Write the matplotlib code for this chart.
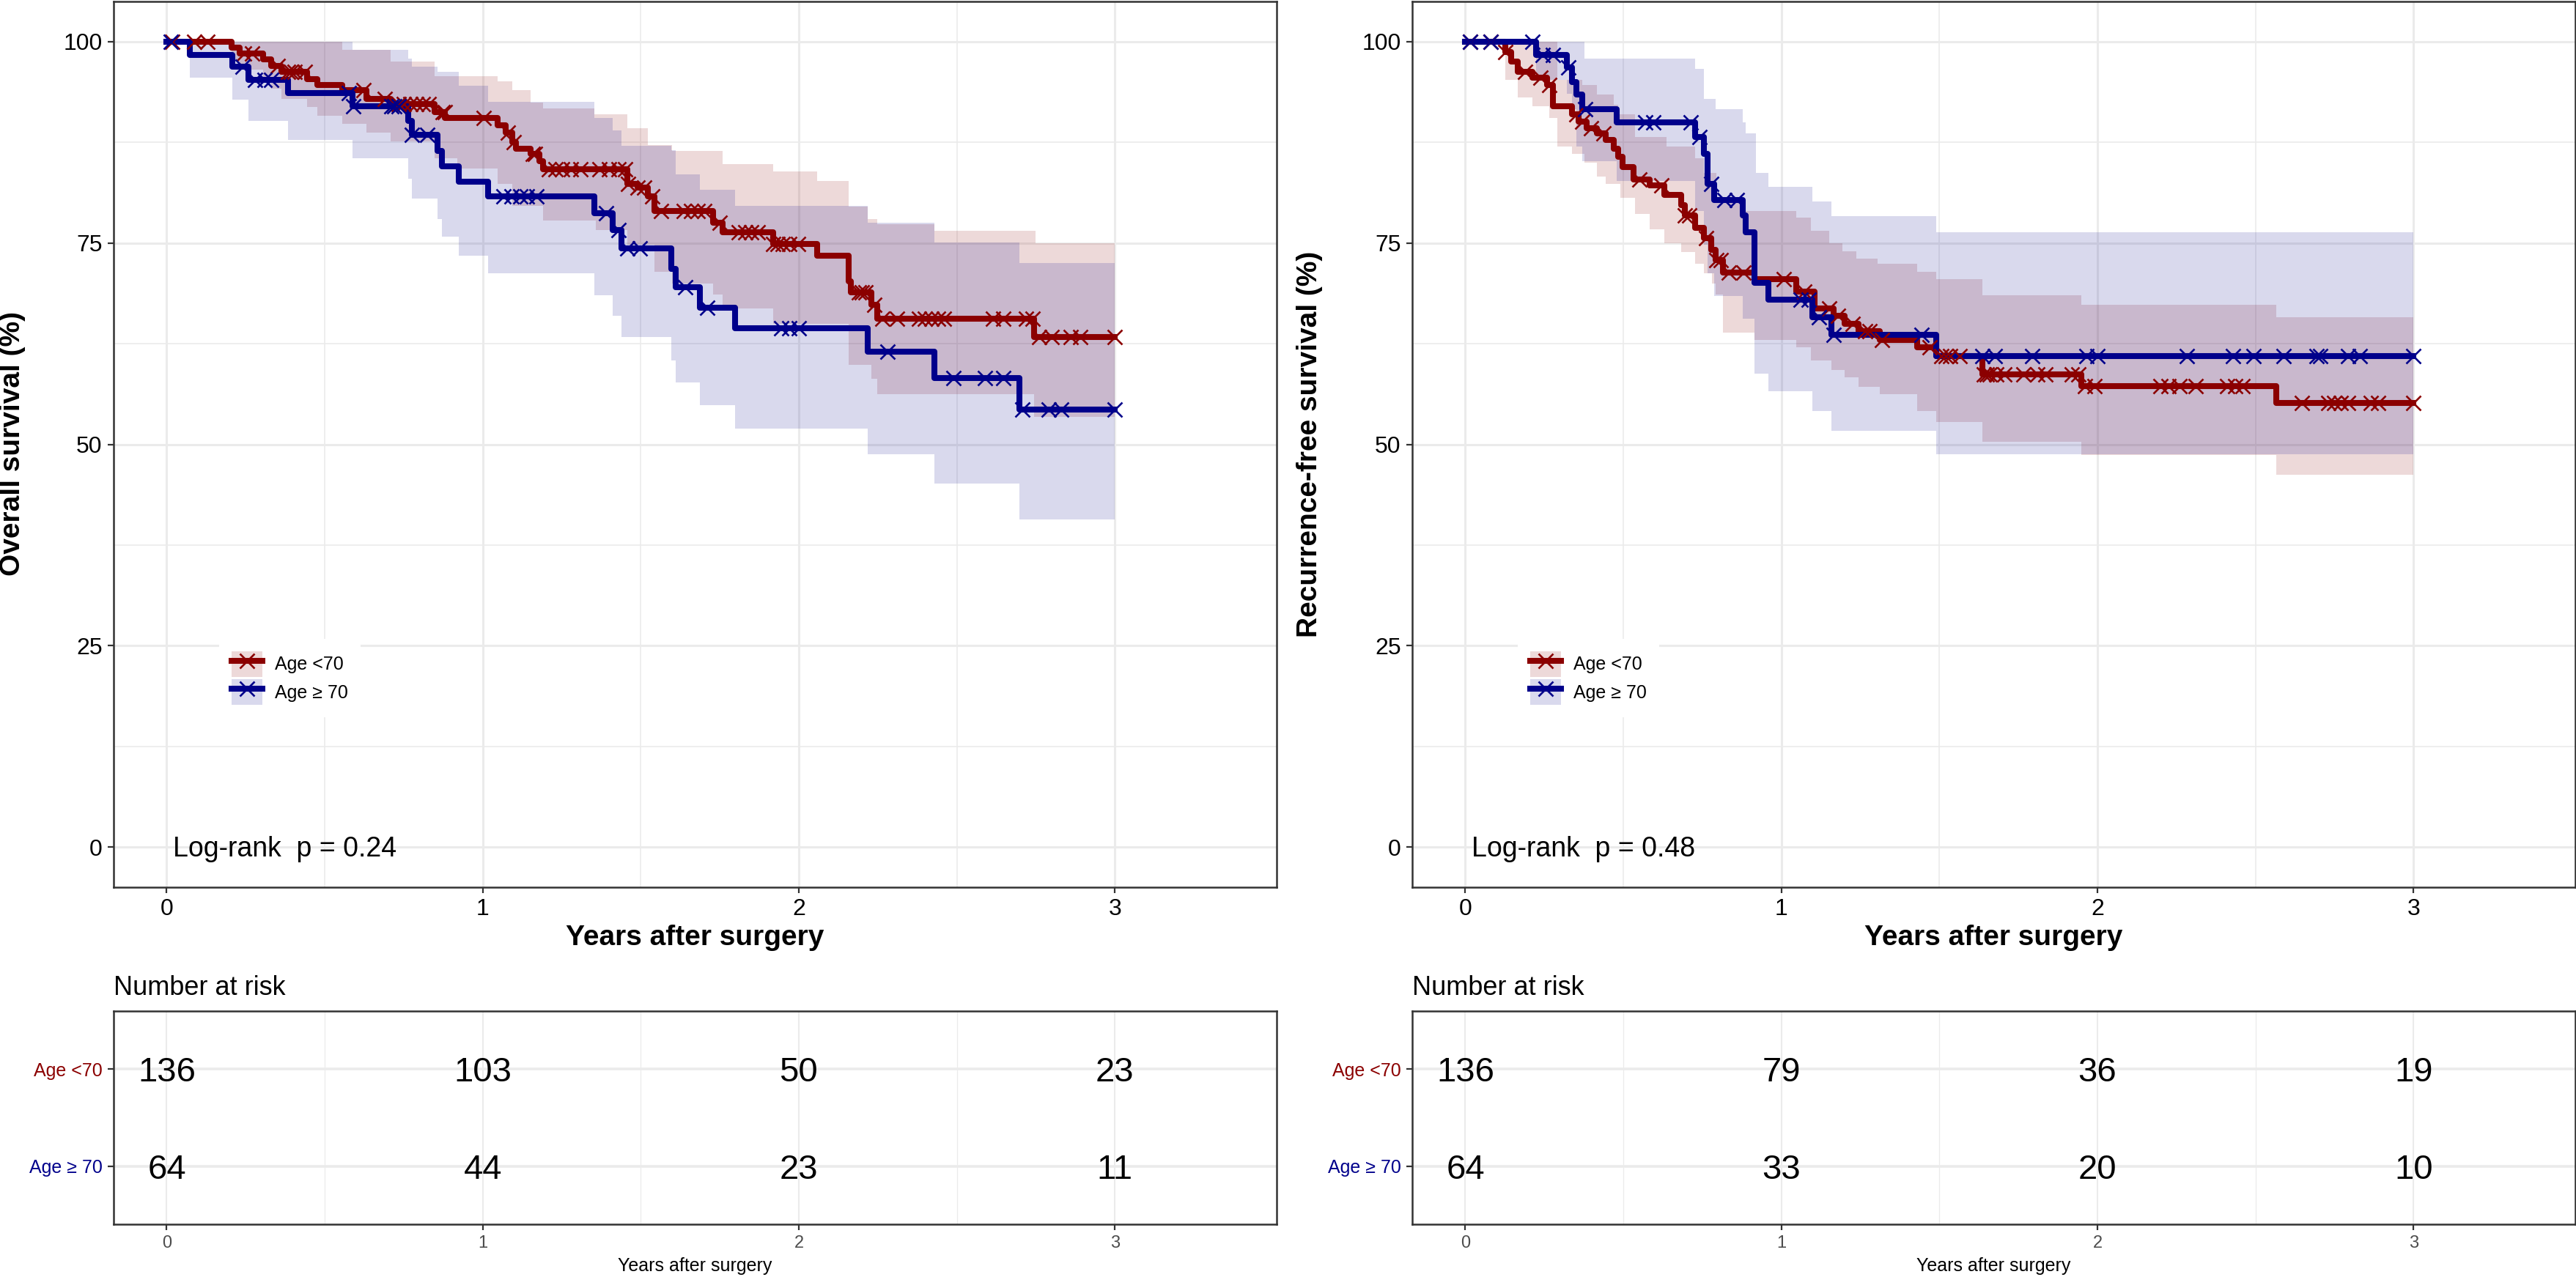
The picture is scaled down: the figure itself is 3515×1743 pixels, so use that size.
import numpy as np
import matplotlib
matplotlib.use("Agg")
import matplotlib.pyplot as plt
from matplotlib.patches import Patch
from matplotlib.lines import Line2D
from matplotlib.legend_handler import HandlerTuple

plt.rcParams['font.family'] = ['Liberation Sans', 'DejaVu Sans']

# ---------------- data ----------------
groups = ["Age <70", "Age \u2265 70"]
group_colors = ["#8B0000", "#00008B"]
end_time = 3.0

# Overall survival, Age <70
os_lt70_time = [0, 0.205, 0.232, 0.305, 0.331, 0.364, 0.444, 0.477, 0.556, 0.632, 0.709, 0.848, 0.881,
                1.046, 1.073, 1.093, 1.106, 1.152, 1.179, 1.192, 1.457, 1.490, 1.523, 1.543, 1.729, 1.760,
                1.920, 2.059, 2.157, 2.165, 2.229, 2.249, 2.744]
os_lt70_surv = [100, 99.3, 98.5, 97.8, 97.0, 96.3, 95.4, 94.6, 94.0, 92.9, 92.3, 91.3, 90.5,
                89.6, 88.7, 87.5, 86.7, 86.1, 85.2, 84.2, 82.3, 81.9, 80.8, 79.0, 77.5, 76.3,
                74.9, 73.4, 70.2, 68.9, 67.3, 65.6, 63.3]
os_lt70_hi_time = [0, 0.556, 0.709, 0.848, 1.046, 1.093, 1.152, 1.192, 1.353, 1.457, 1.523, 1.600,
                   1.760, 1.920, 2.059, 2.157, 2.219, 2.249, 2.430, 2.749]
os_lt70_hi = [100, 99.0, 97.5, 95.7, 95.1, 94.0, 92.4, 91.7, 91.0, 89.3, 87.2, 86.4,
              84.8, 83.9, 82.7, 79.5, 78.0, 77.3, 76.5, 75.0]
os_lt70_lo_time = [0, 0.205, 0.232, 0.305, 0.331, 0.364, 0.444, 0.477, 0.556, 0.632, 0.709, 0.848, 0.920,
                   1.046, 1.093, 1.192, 1.357, 1.457, 1.543, 1.600, 1.729, 1.760, 1.920, 2.157, 2.229,
                   2.249, 2.744]
os_lt70_lo = [100, 97.5, 96.5, 95.0, 94.2, 92.9, 91.9, 90.8, 89.8, 88.7, 87.6, 85.5, 84.3,
              82.3, 79.6, 77.8, 76.6, 74.8, 71.4, 70.0, 68.6, 66.9, 65.0, 59.9, 58.1,
              56.2, 53.4]
os_lt70_cens = [0.017, 0.086, 0.128, 0.245, 0.27, 0.351, 0.384, 0.394, 0.404, 0.437, 0.623, 0.689, 0.735,
                0.75, 0.77, 0.79, 0.81, 0.83, 0.874, 0.88, 1.004, 1.079, 1.099, 1.159, 1.165, 1.21, 1.23,
                1.25, 1.28, 1.31, 1.37, 1.40, 1.43, 1.45, 1.46, 1.49, 1.51, 1.536, 1.565, 1.637, 1.66,
                1.68, 1.70, 1.75, 1.81, 1.83, 1.85, 1.87, 1.92, 1.934, 1.95, 1.97, 1.997, 2.19, 2.20,
                2.21, 2.24, 2.265, 2.31, 2.38, 2.40, 2.42, 2.44, 2.46, 2.615, 2.646, 2.72, 2.74, 2.76,
                2.80, 2.86, 2.89, 3.0]

# Overall survival, Age >= 70
os_ge70_time = [0, 0.073, 0.208, 0.258, 0.384, 0.589, 0.764, 0.775, 0.857, 0.870, 0.925, 1.016, 1.354,
                1.411, 1.440, 1.596, 1.610, 1.686, 1.798, 2.219, 2.430, 2.698]
os_ge70_surv = [100, 98.4, 96.9, 95.3, 93.6, 92.0, 90.2, 88.4, 86.4, 84.5, 82.6, 80.8, 78.7,
                76.6, 74.3, 71.8, 69.5, 67.0, 64.4, 61.5, 58.2, 54.3]
os_ge70_hi_time = [0, 0.589, 0.764, 0.775, 0.857, 0.925, 1.016, 1.354, 1.411, 1.440, 1.596, 1.610,
                   1.686, 1.798, 2.219, 2.430, 2.698]
os_ge70_hi = [100, 99.0, 97.9, 96.9, 96.3, 94.5, 92.5, 90.5, 89.0, 87.1, 86.5, 83.5,
              81.6, 79.6, 77.5, 75.1, 72.5]
os_ge70_lo_time = [0, 0.073, 0.208, 0.258, 0.384, 0.589, 0.764, 0.775, 0.857, 0.870, 0.925, 1.016, 1.354,
                   1.411, 1.440, 1.596, 1.610, 1.686, 1.798, 2.219, 2.430, 2.698]
os_ge70_lo = [100, 95.5, 92.8, 90.2, 87.8, 85.5, 83.0, 80.5, 78.0, 75.8, 73.4, 71.2, 68.5,
              66.0, 63.3, 60.4, 57.7, 54.9, 52.0, 48.8, 45.1, 40.7]
os_ge70_cens = [0.013, 0.24, 0.28, 0.31, 0.33, 0.576, 0.59, 0.71, 0.72, 0.735, 0.775, 0.825, 1.066,
                1.09, 1.12, 1.14, 1.17, 1.39, 1.43, 1.457, 1.497, 1.64, 1.71, 1.945, 1.97, 2.0, 2.28,
                2.49, 2.59, 2.646, 2.708, 2.79, 2.83, 3.0]

# Recurrence-free survival, Age <70
rfs_lt70_time = [0, 0.126, 0.145, 0.166, 0.212, 0.258, 0.278, 0.338, 0.358, 0.384, 0.417, 0.444, 0.470,
                 0.483, 0.497, 0.532, 0.583, 0.629, 0.682, 0.695, 0.728, 0.755, 0.779, 0.792, 0.815,
                 0.914, 1.046, 1.106, 1.166, 1.199, 1.245, 1.311, 1.430, 1.490, 1.636, 1.950, 2.565]
rfs_lt70_surv = [100, 98.7, 97.5, 96.3, 95.5, 94.6, 92.0, 91.0, 90.1, 89.3, 88.6, 87.8, 86.7,
                 85.7, 84.4, 82.9, 82.2, 81.0, 79.7, 78.4, 76.9, 75.6, 74.2, 72.9, 71.3,
                 70.5, 69.0, 66.9, 66.0, 65.0, 64.1, 63.0, 62.1, 61.0, 58.7, 57.2, 55.1]
rfs_lt70_hi_time = [0, 0.291, 0.371, 0.417, 0.470, 0.483, 0.536, 0.636, 0.728, 0.755, 0.795, 0.880,
                    1.046, 1.093, 1.152, 1.192, 1.238, 1.305, 1.430, 1.490, 1.636, 1.950, 2.565]
rfs_lt70_hi = [100, 95.3, 94.6, 93.4, 92.2, 91.0, 88.2, 87.0, 85.5, 83.7, 80.6, 79.0,
               78.2, 76.5, 75.0, 74.0, 73.1, 72.4, 71.4, 70.5, 68.5, 67.3, 65.8]
rfs_lt70_lo_time = [0, 0.126, 0.166, 0.212, 0.265, 0.291, 0.338, 0.377, 0.417, 0.444, 0.490, 0.536,
                    0.583, 0.629, 0.682, 0.728, 0.755, 0.781, 0.792, 0.815, 0.914, 1.046, 1.093, 1.159,
                    1.199, 1.245, 1.311, 1.430, 1.490, 1.636, 1.950, 2.565]
rfs_lt70_lo = [100, 95.3, 93.1, 92.0, 90.5, 87.0, 86.1, 85.0, 83.3, 82.3, 80.6, 78.6,
               76.7, 75.0, 73.9, 72.4, 71.2, 70.0, 68.6, 63.9, 63.0, 62.1, 60.4, 59.2,
               58.3, 57.1, 56.2, 54.1, 52.8, 50.3, 48.7, 46.2]
rfs_lt70_cens = [0.016, 0.08, 0.126, 0.19, 0.238, 0.265, 0.351, 0.371, 0.397, 0.437, 0.55, 0.62, 0.695,
                 0.709, 0.762, 0.795, 0.808, 0.834, 0.88, 1.007, 1.073, 1.152, 1.179, 1.225, 1.265,
                 1.278, 1.318, 1.47, 1.506, 1.52, 1.535, 1.565, 1.64, 1.65, 1.66, 1.68, 1.705, 1.765,
                 1.81, 1.835, 1.92, 1.94, 1.96, 1.99, 2.2, 2.224, 2.26, 2.31, 2.41, 2.435, 2.46, 2.647,
                 2.73, 2.75, 2.77, 2.794, 2.865, 2.888, 3.0]

# Recurrence-free survival, Age >= 70
rfs_ge70_time = [0, 0.225, 0.322, 0.338, 0.351, 0.371, 0.479, 0.726, 0.755, 0.766, 0.788, 0.877, 0.887,
                 0.914, 0.958, 1.099, 1.159, 1.490]
rfs_ge70_surv = [100, 98.4, 96.8, 95.0, 93.4, 91.6, 90.0, 88.2, 86.1, 82.3, 80.3, 78.4, 76.3,
                 70.1, 68.0, 65.8, 63.6, 61.0]
rfs_ge70_hi_time = [0, 0.377, 0.726, 0.755, 0.792, 0.877, 0.887, 0.920, 0.958, 1.099, 1.159, 1.490]
rfs_ge70_hi = [100, 97.9, 96.6, 92.9, 91.6, 90.0, 88.6, 83.7, 82.0, 80.2, 78.3, 76.3]
rfs_ge70_lo_time = [0, 0.225, 0.322, 0.338, 0.351, 0.371, 0.479, 0.726, 0.755, 0.766, 0.788, 0.877,
                    0.914, 0.958, 1.099, 1.159, 1.490]
rfs_ge70_lo = [100, 95.3, 93.5, 91.6, 87.0, 85.2, 82.7, 79.0, 74.8, 71.2, 68.4, 65.6,
               58.8, 56.6, 54.1, 51.7, 48.8]
rfs_ge70_cens = [0.016, 0.08, 0.212, 0.245, 0.278, 0.325, 0.38, 0.57, 0.596, 0.713, 0.742, 0.779, 0.82,
                 0.86, 1.06, 1.086, 1.12, 1.166, 1.444, 1.636, 1.675, 1.794, 1.965, 2.0, 2.282, 2.43,
                 2.494, 2.588, 2.694, 2.706, 2.794, 2.83, 3.0]

# Number at risk
risk_times = [0, 1, 2, 3]
os_risk_lt70 = [136, 103, 50, 23]
os_risk_ge70 = [64, 44, 23, 11]
rfs_risk_lt70 = [136, 79, 36, 19]
rfs_risk_ge70 = [64, 33, 20, 10]

os_pval = "Log-rank  p = 0.24"
rfs_pval = "Log-rank  p = 0.48"
os_ylabel = "Overall survival (%)"
rfs_ylabel = "Recurrence-free survival (%)"
xlabel = "Years after surgery"

# ---------------- helpers ----------------
W, H = 3516, 1743
fig = plt.figure(figsize=(W / 100, H / 100), dpi=100)

GRID = "#EBEBEB"
DARK = "#333333"
XLIM = (-0.168, 3.512)
LW = 5.8


def step_eval(times, vals, x):
    idx = np.searchsorted(np.asarray(times), np.asarray(x), side="right") - 1
    return np.asarray(vals)[idx]


def style_box(ax):
    for s in ax.spines.values():
        s.set_color(DARK)
        s.set_linewidth(1.8)
    ax.tick_params(which="major", direction="out", length=6, width=1.6, color=DARK)
    ax.tick_params(which="minor", length=0)
    ax.set_axisbelow(True)


def draw_km(ax, curves, pval):
    for (t, s, ht, hv, lt, lv, cens), col in zip(curves, group_colors):
        grid = np.unique(np.concatenate([ht, lt, [end_time]]))
        ax.fill_between(grid, step_eval(lt, lv, grid), step_eval(ht, hv, grid), step="post",
                        color=col, alpha=0.15, lw=0, zorder=2)
    for (t, s, ht, hv, lt, lv, cens), col in zip(curves, group_colors):
        tx = list(t) + [end_time]
        sx = list(s) + [s[-1]]
        ax.step(tx, sx, where="post", color=col, lw=LW, zorder=3)
        ax.plot(cens, step_eval(t, s, cens), ls="none", marker="x", ms=14, mew=1.9,
                color=col, zorder=4)
    ax.set_xlim(*XLIM)
    ax.set_ylim(-5, 105)
    ax.set_xticks([0, 1, 2, 3])
    ax.set_xticks([0.5, 1.5, 2.5], minor=True)
    ax.set_yticks([0, 25, 50, 75, 100])
    ax.set_yticks([12.5, 37.5, 62.5, 87.5], minor=True)
    ax.grid(which="major", color=GRID, lw=2.2)
    ax.grid(which="minor", color=GRID, lw=1.2)
    ax.tick_params(labelsize=23, pad=5, labelcolor="black")
    style_box(ax)
    ax.text(0.02, -1.2, pval, fontsize=27, ha="left", va="baseline", zorder=5)
    handles = []
    for col in group_colors:
        handles.append((Patch(facecolor=col, alpha=0.15, edgecolor="none"),
                        Line2D([], [], color=col, lw=LW, marker="x", ms=14, mew=1.9)))
    leg = ax.legend(handles, groups, loc="upper left", bbox_to_anchor=(0.0907, 0.2804),
                    frameon=True, fancybox=False, framealpha=1, edgecolor="none", facecolor="white",
                    fontsize=18, handlelength=1.7, handleheight=1.76, labelspacing=0.15,
                    handletextpad=0.68, borderpad=0.68, borderaxespad=0, numpoints=1,
                    handler_map={tuple: HandlerTuple(ndivide=1)})
    leg.set_zorder(10)


def draw_risk(ax, lt70, ge70):
    ax.set_xlim(*XLIM)
    ax.set_ylim(0.4, 2.6)
    for x, n in zip(risk_times, lt70):
        ax.text(x, 2, str(n), fontsize=34, ha="center", va="center_baseline")
    for x, n in zip(risk_times, ge70):
        ax.text(x, 1, str(n), fontsize=34, ha="center", va="center_baseline")
    ax.set_xticks(risk_times)
    ax.set_xticks([0.5, 1.5, 2.5], minor=True)
    ax.set_yticks([1, 2])
    ax.set_yticklabels([groups[1], groups[0]], fontsize=18)
    for lab, col in zip(ax.get_yticklabels(), [group_colors[1], group_colors[0]]):
        lab.set_color(col)
    ax.tick_params(axis="x", labelsize=17, labelcolor="#4D4D4D", pad=5)
    ax.tick_params(axis="y", pad=5)
    ax.grid(axis="y", which="major", color=GRID, lw=2.6)
    ax.grid(axis="x", which="major", color=GRID, lw=1.5)
    ax.grid(axis="x", which="minor", color=GRID, lw=0.9)
    style_box(ax)
    ax.set_title("Number at risk", loc="left", fontsize=26, pad=16)


main_bottom = 1 - 1211 / H
main_h = (1211 - 2) / H
risk_bottom = 1 - 1671 / H
risk_h = (1671 - 1380) / H
lefts = [155 / W, 1927 / W]
width = 1587 / W

ax1 = fig.add_axes([lefts[0], main_bottom, width, main_h])
ax2 = fig.add_axes([lefts[1], main_bottom, width, main_h])
r1 = fig.add_axes([lefts[0], risk_bottom, width, risk_h])
r2 = fig.add_axes([lefts[1], risk_bottom, width, risk_h])

os_curves = [
    (os_lt70_time, os_lt70_surv, os_lt70_hi_time, os_lt70_hi, os_lt70_lo_time, os_lt70_lo, os_lt70_cens),
    (os_ge70_time, os_ge70_surv, os_ge70_hi_time, os_ge70_hi, os_ge70_lo_time, os_ge70_lo, os_ge70_cens),
]
rfs_curves = [
    (rfs_lt70_time, rfs_lt70_surv, rfs_lt70_hi_time, rfs_lt70_hi, rfs_lt70_lo_time, rfs_lt70_lo, rfs_lt70_cens),
    (rfs_ge70_time, rfs_ge70_surv, rfs_ge70_hi_time, rfs_ge70_hi, rfs_ge70_lo_time, rfs_ge70_lo, rfs_ge70_cens),
]

draw_km(ax1, os_curves, os_pval)
draw_km(ax2, rfs_curves, rfs_pval)
draw_risk(r1, os_risk_lt70, os_risk_ge70)
draw_risk(r2, rfs_risk_lt70, rfs_risk_ge70)

ylab_y = 1 - 606 / H
fig.text(17 / W, ylab_y, os_ylabel, rotation=90, ha="center", va="center", fontsize=28, fontweight="bold")
fig.text(1787 / W, ylab_y, rfs_ylabel, rotation=90, ha="center", va="center", fontsize=28, fontweight="bold")
for lf in lefts:
    cx = lf + width / 2
    fig.text(cx, 1 - 1280 / H, xlabel, ha="center", va="center", fontsize=28, fontweight="bold")
    fig.text(cx, 1 - 1728 / H, xlabel, ha="center", va="center", fontsize=18)

fig.savefig("out.png", dpi=100, facecolor="white")
